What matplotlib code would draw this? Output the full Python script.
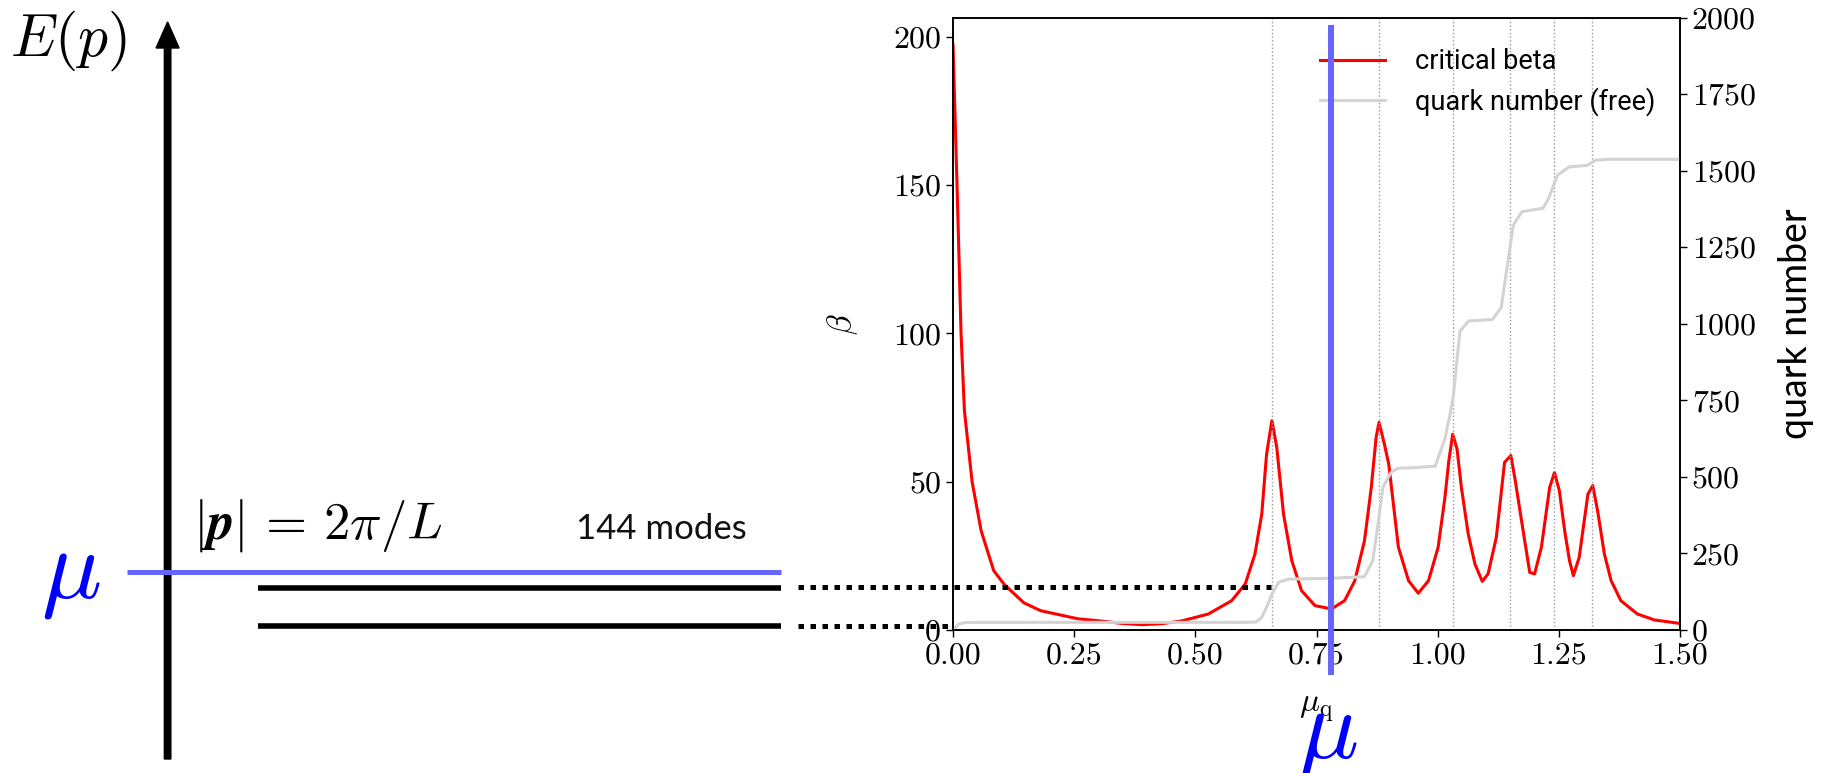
import matplotlib
matplotlib.use("Agg")
import matplotlib.pyplot as plt
from matplotlib.lines import Line2D

plt.rcParams['font.family'] = 'cmr10'
plt.rcParams['mathtext.fontset'] = 'cm'
plt.rcParams['axes.unicode_minus'] = False

# critical beta vs quark chemical potential
mu_beta = [0, 0.0083, 0.0166, 0.0235, 0.0394, 0.058, 0.084, 0.106, 0.146, 0.181,
           0.257, 0.301, 0.35, 0.39, 0.43, 0.473, 0.527, 0.575, 0.603, 0.623,
           0.637, 0.647, 0.658, 0.668, 0.682, 0.699, 0.719, 0.747, 0.781, 0.808,
           0.829, 0.849, 0.863, 0.873, 0.879, 0.890, 0.899, 0.919, 0.940, 0.960,
           0.981, 1.001, 1.015, 1.023, 1.031, 1.040, 1.049, 1.063, 1.077, 1.092,
           1.104, 1.121, 1.138, 1.151, 1.159, 1.173, 1.190, 1.200, 1.214, 1.231,
           1.241, 1.251, 1.262, 1.272, 1.280, 1.292, 1.310, 1.320, 1.330, 1.344,
           1.358, 1.378, 1.412, 1.447, 1.5]
beta_crit = [197.3, 150, 100, 74, 50, 33.5, 20, 15.3, 9.2, 6.5,
             3.8, 3.1, 2.2, 1.8, 2.1, 3.1, 5.4, 9.9, 15.5, 25.6,
             39, 59.3, 70.6, 61.6, 39, 23.4, 13.3, 8.2, 7.1, 9.9,
             16.6, 30.1, 48, 65, 70, 62.7, 56, 27.9, 16.6, 12.4,
             16.6, 27.9, 44.7, 57, 66, 61, 48, 32.4, 22.2, 16.4,
             18.9, 31.2, 56.5, 58.8, 51.5, 36.9, 19.4, 18.9, 27.9, 48,
             53.1, 47, 33.5, 23.4, 18.3, 24.5, 45.8, 48.7, 40.2, 25.6,
             16.6, 9.9, 5.4, 3.4, 2.2]

# free quark number
mu_qn = [0, 0.012, 0.024, 0.05, 0.30, 0.60, 0.625, 0.637, 0.647, 0.658,
         0.672, 0.692, 0.781, 0.849, 0.866, 0.876, 0.887, 0.904, 0.918, 0.95,
         0.995, 1.015, 1.025, 1.032, 1.046, 1.064, 1.113, 1.131, 1.144, 1.156,
         1.174, 1.217, 1.229, 1.247, 1.271, 1.308, 1.326, 1.350, 1.5]
quark_num = [0, 20, 24, 25, 25, 25, 26, 41, 74, 117,
             156, 166, 169, 174, 226, 335, 466, 515, 528, 530,
             535, 625, 700, 760, 976, 1009, 1014, 1052, 1193, 1322,
             1366, 1377, 1409, 1485, 1512, 1517, 1534, 1537, 1537]

# free energy levels (dotted verticals) and the chosen mu
mode_energies = [0.658, 0.878, 1.032, 1.150, 1.241, 1.319]
mu_choice = 0.78

W, H = 1827, 773
fig = plt.figure(figsize=(W / 100, H / 100), dpi=100)

ax = fig.add_axes([953 / W, 1 - 630 / H, 727 / W, 612.5 / H])
ax2 = ax.twinx()

ax.plot(mu_beta, beta_crit, color='red', lw=2.2)
for e in mode_energies:
    ax.axvline(e, color='#999999', lw=1.0, ls=':')
ax2.plot(mu_qn, quark_num, color='#d3d3d3', lw=2.2)

ax.set_xlim(0, 1.5)
ax.set_ylim(0, 206.5)
ax2.set_ylim(0, 2000)
ax.set_xticks([0, 0.25, 0.5, 0.75, 1.0, 1.25, 1.5])
ax.set_yticks([0, 50, 100, 150, 200])
ax2.set_yticks([0, 250, 500, 750, 1000, 1250, 1500, 1750, 2000])
ax.set_xticklabels(['0.00', '0.25', '0.50', '0.75', '1.00', '1.25', '1.50'])
for a in (ax, ax2):
    a.tick_params(labelsize=23, length=5, width=1)
    for s in a.spines.values():
        s.set_linewidth(1.2)

ax.set_xlabel(r'$\mu_{\rm q}$', fontsize=24, labelpad=18)
ax.set_ylabel(r'$\beta$', fontsize=24, labelpad=24)
ax2.set_ylabel('quark number', fontsize=27, family='Lato', labelpad=16)

handles = [Line2D([], [], color='red', lw=2.2), Line2D([], [], color='#d3d3d3', lw=2.2)]
ax2.legend(handles, ['critical beta', 'quark number (free)'], loc='upper right',
           frameon=False, prop={'family': 'Roboto', 'size': 19.5},
           handlelength=2.4, handletextpad=1.1, labelspacing=0.45,
           bbox_to_anchor=(1.0, 0.99))

# left energy-level sketch, overlay in pixel units
ov = fig.add_axes([0, 0, 1, 1], zorder=10)
ov.set_xlim(0, W)
ov.set_ylim(H, 0)
ov.axis('off')

ov.arrow(167.6, 759, 0, -737, width=6.5, head_width=23, head_length=26,
         length_includes_head=True, color='black')
ov.text(10, 41, r'$E(p)$', fontsize=43, va='center', ha='left')

ov.plot([127, 781], [572, 572], color='#6666ff', lw=3.6, solid_capstyle='butt')
ov.plot([258, 781], [588, 588], color='black', lw=4.0, solid_capstyle='butt')
ov.plot([258, 781], [625.5, 625.5], color='black', lw=4.0, solid_capstyle='butt')
ov.plot([798, 1271], [587, 587], color='black', lw=3.6, dashes=(1.1, 1.3),
        dash_capstyle='butt')
ov.plot([798, 948], [626, 626], color='black', lw=3.6, dashes=(1.1, 1.3),
        dash_capstyle='butt')

ov.text(71, 577, r'$\mu$', fontsize=72, color='blue', ha='center', va='center')
ov.text(318, 526, r'$|\boldsymbol{p}|\,=\,2\pi/L$', fontsize=38, ha='center', va='center')
ov.text(661, 529, '144 modes', fontsize=25, family='Lato', color='#111111',
        ha='center', va='center')

# chosen mu marked on the beta plot
ov.plot([1331, 1331], [25, 675], color='#6666ff', lw=4.3, solid_capstyle='butt')
ov.text(1328, 737, r'$\mu$', fontsize=72, color='blue', ha='center', va='center')

fig.savefig('out.png', dpi=100)
